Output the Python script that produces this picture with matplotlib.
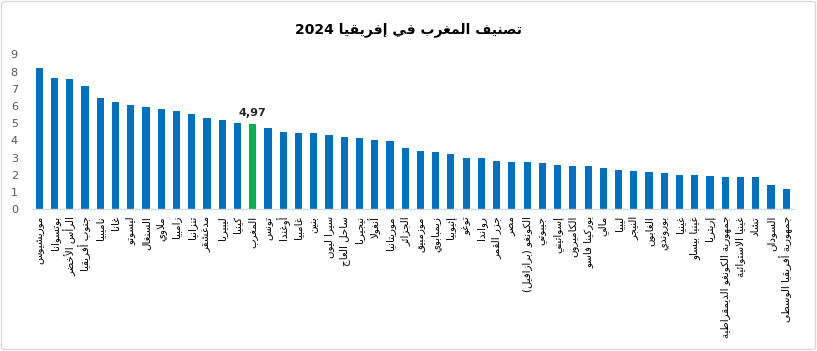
import matplotlib
matplotlib.use("Agg")
import matplotlib.pyplot as plt
from matplotlib.patches import FancyBboxPatch

# ---------------- data ----------------
countries = [
    "موريشيوس", "بوتسوانا", "الرأس الأخضر", "جنوب أفريقيا", "ناميبيا", "غانا",
    "ليسوتو", "السنغال", "ملاوي", "زامبيا", "تنزانيا", "مدغشقر", "ليبيريا",
    "كينيا", "المغرب", "تونس", "أوغندا", "غامبيا", "بنين", "سيرا ليون",
    "ساحل العاج", "نيجيريا", "أنغولا", "موريتانيا", "الجزائر", "موزمبيق",
    "زيمبابوي", "إثيوبيا", "توغو", "رواندا", "جزر القمر", "مصر",
    "الكونغو (برازافيل)", "جيبوتي", "إسواتيني", "الكاميرون", "بوركينا فاسو",
    "مالي", "ليبيا", "النيجر", "الغابون", "بوروندي", "غينيا", "غينيا بيساو",
    "إريتريا", "جمهورية الكونغو الديمقراطية", "غينيا الاستوائية", "تشاد",
    "السودان", "جمهورية أفريقيا الوسطى",
]
scores = [
    8.21, 7.63, 7.57, 7.16, 6.46, 6.22, 6.05, 5.93, 5.82, 5.70,
    5.53, 5.30, 5.18, 5.01, 4.97, 4.72, 4.49, 4.43, 4.43, 4.31,
    4.19, 4.13, 4.02, 3.96, 3.55, 3.38, 3.32, 3.20, 2.97, 2.97,
    2.80, 2.74, 2.74, 2.68, 2.56, 2.50, 2.50, 2.39, 2.27, 2.21,
    2.15, 2.10, 1.98, 1.98, 1.92, 1.86, 1.86, 1.86, 1.40, 1.17,
]
highlight = "المغرب"
highlight_label = "4,97"
title_ar = "تصنيف المغرب في إفريقيا"
title_year = "2024"
y_ticks = list(range(0, 10))

# ---------------- minimal Arabic shaping ----------------
# (isolated, final, initial, medial)
FORMS = {
    'ء': ('\uFE80', None, None, None),
    'آ': ('\uFE81', '\uFE82', None, None),
    'أ': ('\uFE83', '\uFE84', None, None),
    'ؤ': ('\uFE85', '\uFE86', None, None),
    'إ': ('\uFE87', '\uFE88', None, None),
    'ئ': ('\uFE89', '\uFE8A', '\uFE8B', '\uFE8C'),
    'ا': ('\uFE8D', '\uFE8E', None, None),
    'ب': ('\uFE8F', '\uFE90', '\uFE91', '\uFE92'),
    'ة': ('\uFE93', '\uFE94', None, None),
    'ت': ('\uFE95', '\uFE96', '\uFE97', '\uFE98'),
    'ث': ('\uFE99', '\uFE9A', '\uFE9B', '\uFE9C'),
    'ج': ('\uFE9D', '\uFE9E', '\uFE9F', '\uFEA0'),
    'ح': ('\uFEA1', '\uFEA2', '\uFEA3', '\uFEA4'),
    'خ': ('\uFEA5', '\uFEA6', '\uFEA7', '\uFEA8'),
    'د': ('\uFEA9', '\uFEAA', None, None),
    'ذ': ('\uFEAB', '\uFEAC', None, None),
    'ر': ('\uFEAD', '\uFEAE', None, None),
    'ز': ('\uFEAF', '\uFEB0', None, None),
    'س': ('\uFEB1', '\uFEB2', '\uFEB3', '\uFEB4'),
    'ش': ('\uFEB5', '\uFEB6', '\uFEB7', '\uFEB8'),
    'ص': ('\uFEB9', '\uFEBA', '\uFEBB', '\uFEBC'),
    'ض': ('\uFEBD', '\uFEBE', '\uFEBF', '\uFEC0'),
    'ط': ('\uFEC1', '\uFEC2', '\uFEC3', '\uFEC4'),
    'ظ': ('\uFEC5', '\uFEC6', '\uFEC7', '\uFEC8'),
    'ع': ('\uFEC9', '\uFECA', '\uFECB', '\uFECC'),
    'غ': ('\uFECD', '\uFECE', '\uFECF', '\uFED0'),
    'ف': ('\uFED1', '\uFED2', '\uFED3', '\uFED4'),
    'ق': ('\uFED5', '\uFED6', '\uFED7', '\uFED8'),
    'ك': ('\uFED9', '\uFEDA', '\uFEDB', '\uFEDC'),
    'ل': ('\uFEDD', '\uFEDE', '\uFEDF', '\uFEE0'),
    'م': ('\uFEE1', '\uFEE2', '\uFEE3', '\uFEE4'),
    'ن': ('\uFEE5', '\uFEE6', '\uFEE7', '\uFEE8'),
    'ه': ('\uFEE9', '\uFEEA', '\uFEEB', '\uFEEC'),
    'و': ('\uFEED', '\uFEEE', None, None),
    'ى': ('\uFEEF', '\uFEF0', None, None),
    'ي': ('\uFEF1', '\uFEF2', '\uFEF3', '\uFEF4'),
}
LAMALEF = {'آ': ('\uFEF5', '\uFEF6'), 'أ': ('\uFEF7', '\uFEF8'),
           'إ': ('\uFEF9', '\uFEFA'), 'ا': ('\uFEFB', '\uFEFC')}
MIRROR = {'(': ')', ')': '('}


def shape(text):
    out = []
    prev_joins = False  # previous glyph can connect to the left
    i = 0
    n = len(text)
    while i < n:
        c = text[i]
        if c == 'ل' and i + 1 < n and text[i + 1] in LAMALEF:
            iso, fin = LAMALEF[text[i + 1]]
            out.append(fin if prev_joins else iso)
            prev_joins = False
            i += 2
            continue
        if c in FORMS:
            iso, fin, ini, med = FORMS[c]
            nxt = text[i + 1] if i + 1 < n else None
            join_prev = prev_joins and fin is not None
            join_next = ini is not None and nxt in FORMS and FORMS[nxt][1] is not None
            if join_prev and join_next:
                out.append(med)
            elif join_prev:
                out.append(fin)
            elif join_next:
                out.append(ini)
            else:
                out.append(iso)
            prev_joins = ini is not None
        else:
            out.append(c)
            prev_joins = False
        i += 1
    return ''.join(out)


def visual(text):
    shaped = shape(text)
    runs, cur, cur_ltr = [], '', None
    for ch in shaped:
        ltr = ch.isdigit() or ('a' <= ch.lower() <= 'z') or ch in ',.'
        if cur_ltr is None or ltr == cur_ltr:
            cur += ch
        else:
            runs.append((cur, cur_ltr))
            cur = ch
        cur_ltr = ltr
    if cur:
        runs.append((cur, cur_ltr))
    parts = []
    for s, ltr in reversed(runs):
        parts.append(s if ltr else ''.join(MIRROR.get(ch, ch) for ch in reversed(s)))
    return ''.join(parts)


# ---------------- figure ----------------
W, H = 817, 351
fig = plt.figure(figsize=(W / 100, H / 100), dpi=100)
fig.patch.set_facecolor('white')

border = FancyBboxPatch((1.5 / W, 1.5 / H), 1 - 3 / W, 1 - 3 / H,
                        boxstyle="round,pad=0,rounding_size=0.006",
                        transform=fig.transFigure, fill=False,
                        edgecolor='#D9D9D9', linewidth=1.0)
fig.patches.append(border)

left, right = 31.7 / W, 793.9 / W
bottom, top = 1 - 209 / H, 1 - 54.5 / H
ax = fig.add_axes([left, bottom, right - left, top - bottom])

x = list(range(len(countries)))
colors = ['#00B050' if c == highlight else '#0070C0' for c in countries]
ax.bar(x, scores, width=0.47, color=colors, zorder=2)

hi = countries.index(highlight)
ax.text(hi, scores[hi] + 0.35, highlight_label, ha='center', va='bottom',
        fontsize=8, fontweight='bold', color='#262626', family='DejaVu Sans')

ax.set_xlim(-0.5, len(countries) - 0.5)
ax.set_ylim(0, 9)
ax.set_yticks(y_ticks)
ax.set_yticklabels([str(t) for t in y_ticks], fontsize=8, color='#595959')
ax.set_xticks(x)
ax.set_xticklabels([visual(c) for c in countries], rotation=90,
                   fontsize=7.4, family='DejaVu Sans', color='#000000')
ax.tick_params(axis='y', length=0, pad=10)
ax.tick_params(axis='x', length=0, pad=5)
for s in ['left', 'right', 'top']:
    ax.spines[s].set_visible(False)
ax.spines['bottom'].set_color('#D9D9D9')
ax.spines['bottom'].set_linewidth(1.0)

fig.text(0.5, 1 - 30 / H, title_year + ' ' + visual(title_ar),
         ha='center', va='center', fontsize=10, fontweight='bold',
         family='DejaVu Sans', color='#000000')

fig.savefig('out.png', dpi=100, facecolor='white')
